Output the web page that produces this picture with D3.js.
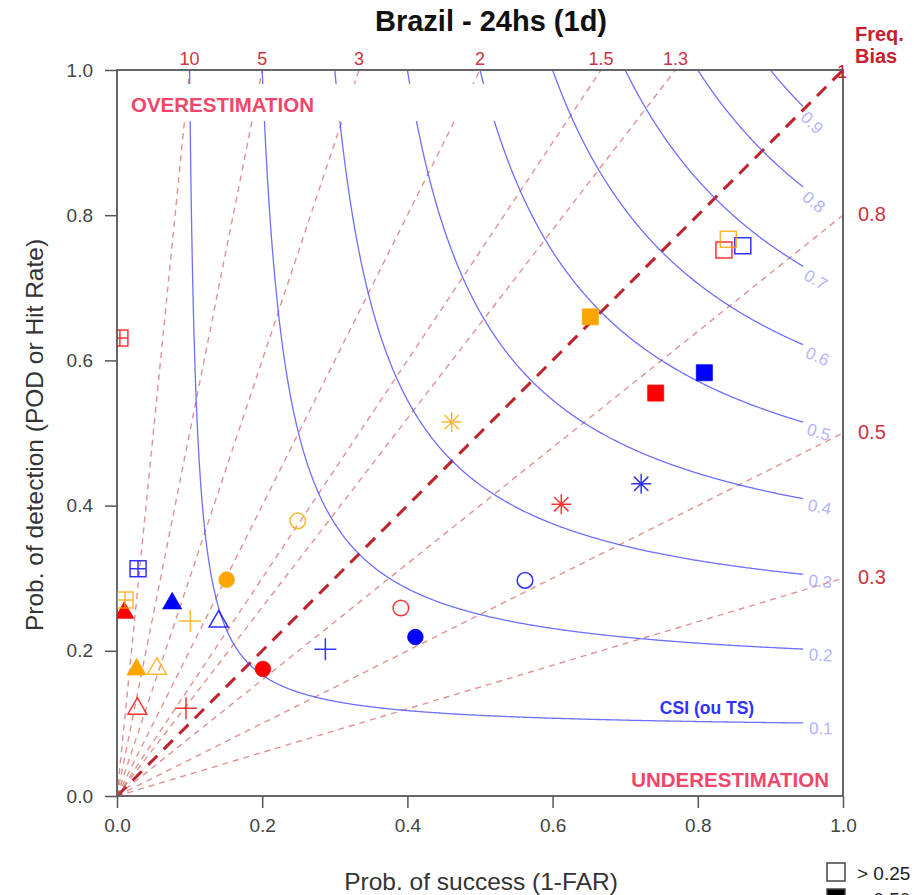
<!DOCTYPE html>
<html>
<head>
<meta charset="utf-8">
<script src="https://cdn.jsdelivr.net/npm/d3@7"></script>
<style>
  html, body { margin: 0; padding: 0; background: #fff; }
  svg { display: block; font-family: "Liberation Sans", Arial, Helvetica, sans-serif; }
</style>
</head>
<body>
<svg id="chart" width="914" height="895"></svg>
<script>
// ---------- data ----------
const titleText = "Brazil - 24hs (1d)";
const xTicks = [0.0, 0.2, 0.4, 0.6, 0.8, 1.0];
const yTicks = [0.0, 0.2, 0.4, 0.6, 0.8, 1.0];
const biasValues = [0.3, 0.5, 0.8, 1, 1.3, 1.5, 2, 3, 5, 10];
const biasTopLabels = ["10", "5", "3", "2", "1.5", "1.3"];
const biasRightLabels = ["0.8", "0.5", "0.3"];
const csiValues = [0.1, 0.2, 0.3, 0.4, 0.5, 0.6, 0.7, 0.8, 0.9];

const markerTypes = ["squarePlus", "triangleFilled", "triangleOpen", "plus", "circleFilled",
                     "circleOpen", "asterisk", "squareFilled", "squareOpen"];
const seriesColors = ["#ff0000", "#0000ff", "#ffa500"];
const redSR    = [0.004, 0.010, 0.028, 0.095, 0.201, 0.391, 0.612, 0.742, 0.836];
const redPOD   = [0.631, 0.253, 0.121, 0.121, 0.175, 0.259, 0.402, 0.555, 0.752];
const blueSR   = [0.029, 0.076, 0.140, 0.287, 0.411, 0.562, 0.722, 0.809, 0.862];
const bluePOD  = [0.313, 0.266, 0.241, 0.202, 0.219, 0.297, 0.430, 0.583, 0.758];
const orangeSR = [0.011, 0.027, 0.055, 0.101, 0.151, 0.249, 0.461, 0.652, 0.842];
const orangePOD= [0.270, 0.175, 0.176, 0.241, 0.298, 0.379, 0.515, 0.660, 0.767];
const legendLabels = ["> 0.25", "> 0.50"];

// ---------- setup ----------
const svg = d3.select("#chart");
const L = 117, R = 843, T = 70, B = 796;
const x = d3.scaleLinear().domain([0, 1]).range([L, R]);
const y = d3.scaleLinear().domain([0, 1]).range([B, T]);

svg.append("defs").append("clipPath").attr("id", "plotclip")
  .append("rect").attr("x", L).attr("y", T).attr("width", R - L).attr("height", B - T);

const plot = svg.append("g").attr("clip-path", "url(#plotclip)");

// bias lines
biasValues.forEach(b => {
  const end = b >= 1 ? [1 / b, 1] : [1, b];
  const isOne = b === 1;
  plot.append("line")
    .attr("x1", x(0)).attr("y1", y(0))
    .attr("x2", x(end[0])).attr("y2", y(end[1]))
    .attr("stroke", isOne ? "#c0202a" : "#cc4a4a")
    .attr("stroke-opacity", isOne ? 1 : 0.6)
    .attr("stroke-width", isOne ? 3 : 1.4)
    .attr("stroke-dasharray", isOne ? "13,9" : "6,5");
});

// CSI curves
const srEnd = 0.945;
const line = d3.line().x(d => x(d[0])).y(d => y(d[1]));
csiValues.forEach(c => {
  const pts = [];
  const n = 600;
  for (let i = 0; i <= n; i++) {
    const t = i / n;
    const sr = c + (srEnd - c) * Math.pow(t, 2);
    const pod = 1 / (1 / c - 1 / sr + 1);
    pts.push([sr, pod]);
  }
  plot.append("path").attr("d", line(pts))
    .attr("fill", "none").attr("stroke", "#4a4aff").attr("stroke-opacity", 0.8)
    .attr("stroke-width", 1.3);
  // label
  const podEnd = 1 / (1 / c - 1 / srEnd + 1);
  const slope = -(podEnd * podEnd) / (srEnd * srEnd); // dPOD/dSR
  const ang = Math.atan(-slope) * 180 / Math.PI; // pixel downward angle
  svg.append("text")
    .attr("transform", `translate(${x(srEnd)},${y(podEnd)}) rotate(${ang})`)
    .attr("x", 6).attr("y", 11)
    .attr("font-size", 17).attr("fill", "#b4b4ff")
    .text(String(c));
});

// white band behind OVERESTIMATION
svg.append("rect").attr("x", L + 1).attr("y", 84).attr("width", 525 - L).attr("height", 37)
  .attr("fill", "#fff");

// box
svg.append("rect").attr("x", L).attr("y", T).attr("width", R - L).attr("height", B - T)
  .attr("fill", "none").attr("stroke", "#666").attr("stroke-width", 2);

// axes
const xAxis = svg.append("g").attr("transform", `translate(0,${B})`)
  .call(d3.axisBottom(x).tickValues(xTicks).tickFormat(d3.format(".1f")).tickSize(12).tickPadding(11));
const yAxis = svg.append("g").attr("transform", `translate(${L},0)`)
  .call(d3.axisLeft(y).tickValues(yTicks).tickFormat(d3.format(".1f")).tickSize(12).tickPadding(12));
[xAxis, yAxis].forEach(a => {
  a.select(".domain").remove();
  a.selectAll(".tick line").attr("stroke", "#555").attr("stroke-width", 1.5);
  a.selectAll(".tick text").attr("font-size", 19).attr("fill", "#444")
    .attr("font-family", "Liberation Sans, Arial, sans-serif");
});

// titles
svg.append("text").attr("x", 491).attr("y", 31).attr("text-anchor", "middle")
  .attr("font-size", 29).attr("font-weight", "bold").attr("fill", "#111").text(titleText);
svg.append("text").attr("x", 481).attr("y", 890).attr("text-anchor", "middle")
  .attr("font-size", 24.5).attr("fill", "#333").text("Prob. of success (1-FAR)");
svg.append("text").attr("transform", "translate(43,435) rotate(-90)").attr("text-anchor", "middle")
  .attr("font-size", 24.5).attr("fill", "#333").text("Prob. of detection (POD or Hit Rate)");

// bias labels
const biasRed = "#cc3340";
const topB = biasValues.filter(b => b > 1).reverse();
topB.forEach((b, i) => {
  svg.append("text").attr("x", x(1 / b)).attr("y", 65).attr("text-anchor", "middle")
    .attr("font-size", 18).attr("fill", biasRed).text(biasTopLabels[i]);
});
svg.append("text").attr("x", x(1) - 1).attr("y", 78).attr("text-anchor", "middle")
  .attr("font-size", 18).attr("fill", "#c0202a").text("1");
const rightB = biasValues.filter(b => b < 1).reverse();
rightB.forEach((b, i) => {
  svg.append("text").attr("x", 858).attr("y", y(b) + 6)
    .attr("font-size", 20).attr("fill", biasRed).text(biasRightLabels[i]);
});
svg.append("text").attr("x", 855).attr("y", 41).attr("font-size", 20).attr("font-weight", "bold")
  .attr("fill", "#c8202f").text("Freq.");
svg.append("text").attr("x", 855).attr("y", 63).attr("font-size", 20).attr("font-weight", "bold")
  .attr("fill", "#c8202f").text("Bias");

// annotation texts
svg.append("text").attr("x", 131).attr("y", 112).attr("font-size", 20.5).attr("font-weight", "bold")
  .attr("fill", "#f0466a").text("OVERESTIMATION");
svg.append("text").attr("x", 829).attr("y", 787).attr("text-anchor", "end").attr("font-size", 20.5)
  .attr("font-weight", "bold").attr("fill", "#f0466a").text("UNDERESTIMATION");
svg.append("text").attr("x", 707).attr("y", 714).attr("text-anchor", "middle").attr("font-size", 17.5)
  .attr("font-weight", "bold").attr("fill", "#3030ff").text("CSI (ou TS)");

// markers
function markerPath(type) {
  const s = 8;
  switch (type) {
    case "squareOpen": case "squareFilled":
      return `M${-s},${-s}H${s}V${s}H${-s}Z`;
    case "squarePlus":
      return `M${-s},${-s}H${s}V${s}H${-s}Z M0,${-s}V${s} M${-s},0H${s}`;
    case "circleOpen": case "circleFilled":
      return d3.symbol(d3.symbolCircle, Math.PI * 7.8 * 7.8)();
    case "triangleOpen": case "triangleFilled":
      return "M0,-10.5 L9.5,6 L-9.5,6 Z";
    case "plus":
      return "M-11,0H11M0,-11V11";
    case "asterisk":
      return "M-10,0H10M0,-10V10M-7.2,-7.2L7.2,7.2M-7.2,7.2L7.2,-7.2";
  }
}
const series = [[redSR, redPOD], [blueSR, bluePOD], [orangeSR, orangePOD]];
const mk = svg.append("g").attr("clip-path", "url(#plotclip)");
series.forEach((s, si) => {
  const col = seriesColors[si];
  s[0].forEach((sr, i) => {
    const type = markerTypes[i];
    const filled = type.endsWith("Filled");
    mk.append("path")
      .attr("transform", `translate(${x(sr)},${y(s[1][i])})`)
      .attr("d", markerPath(type))
      .attr("fill", filled ? col : "none")
      .attr("stroke", col)
      .attr("stroke-width", filled ? 0.8 : 1.5)
      .attr("opacity", filled ? 1 : 0.8);
  });
});

// legend (partially out of view, as in the reference)
legendLabels.forEach((lab, i) => {
  const yy = 863 + i * 26;
  svg.append("rect").attr("x", 827).attr("y", yy).attr("width", 18).attr("height", 18)
    .attr("fill", i === 0 ? "#fff" : "#000").attr("stroke", "#444").attr("stroke-width", 1.5);
  svg.append("text").attr("x", 857).attr("y", yy + 17).attr("font-size", 19).attr("fill", "#222")
    .text(lab);
});
</script>
</body>
</html>
